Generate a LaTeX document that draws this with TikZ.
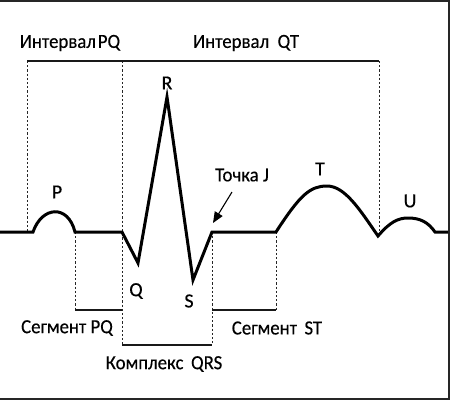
\documentclass[tikz,border=0pt]{standalone}
\usepackage{fontspec}
\setmainfont{Carlito}[FakeBold=0.3]
\usetikzlibrary{arrows.meta}
\newcommand{\sq}[1]{\scalebox{0.94}[1]{#1}}
\begin{document}
\begin{tikzpicture}[x=1pt,y=-1pt,
  wave/.style={line width=3pt,line join=miter,black},
  guide/.style={line width=1pt,dash pattern=on 2.2pt off 2pt,black!85},
  brace/.style={line width=1.7pt,black!90},
  lbl/.style={inner sep=0pt,font=\fontsize{20}{20}\selectfont,text=black},
  frame/.style={line width=2.5pt,black!85}]
\useasboundingbox (0,0) rectangle (450,400);
\fill[white] (0,0) rectangle (450,400);
% frame
\draw[frame] (0,1) -- (449,1) -- (449,399) -- (0,399);
% guides
\coordinate (g1t) at (27,61);  \coordinate (g1b) at (27,232);
\coordinate (g2t) at (122,61); \coordinate (g2b) at (122,345);
\coordinate (g3t) at (379,61); \coordinate (g3b) at (379,232);
\coordinate (g4t) at (75,232); \coordinate (g4b) at (75,310);
\coordinate (g5t) at (212,232); \coordinate (g5b) at (212,345);
\coordinate (g6t) at (276,232); \coordinate (g6b) at (276,310);
\draw[guide] (g1t) -- (g1b);
\draw[guide] (g2t) -- (g2b);
\draw[guide] (g3t) -- (g3b);
\draw[guide] (g4t) -- (g4b);
\draw[guide] (g5t) -- (g5b);
\draw[guide] (g6t) -- (g6b);
% brackets
\draw[brace] (g1t) -- (g3t);
\draw[brace] (g4b) -- (122,310);
\draw[brace] (122,345) -- (g5b);
\draw[brace] (212,310) -- (g6b);
% ECG wave
\draw[wave] (0,232) -- (33,232)
  .. controls (42,206) and (68,204) .. (75,232)
  -- (122,232) -- (138,263) -- (167,97) -- (193,280) -- (212,232) -- (276,232)
  .. controls (300,195) and (310,186) .. (327,186)
  .. controls (345,186) and (360,210) .. (378,236)
  .. controls (390,222) and (398,218) .. (408,218)
  .. controls (420,218) and (428,222) .. (435,232) -- (448,232);
% labels
\node[lbl] (iPQ) at (70,43) {\sq{Интервал\hspace{2pt}PQ}};
\node[lbl] (iQT) at (246,43) {\sq{Интервал\hspace{9pt}QT}};
\node[lbl] (R) at (167,83) {R};
\node[lbl] (P) at (57,192) {P};
\node[lbl] (T) at (320,169) {T};
\node[lbl] (U) at (410,201) {U};
\node[lbl] (Q) at (136,291) {Q};
\node[lbl] (S) at (189,301) {S};
\node[lbl] (J) at (242,175) {\sq{Точка J}};
\node[lbl] (sPQ) at (67,328) {\sq{Сегмент PQ}};
\node[lbl] (sST) at (277,328) {\sq{Сегмент\hspace{8pt}ST}};
\node[lbl] (kQRS) at (164,364) {\sq{Комплекс\hspace{8pt}QRS}};
% arrow to J point
\coordinate (aJs) at (232,192);
\coordinate (aJe) at (213,223);
\draw[line width=1.1pt,-{Triangle[length=11pt,width=9pt]}] (aJs) -- (aJe);
\end{tikzpicture}
\end{document}
